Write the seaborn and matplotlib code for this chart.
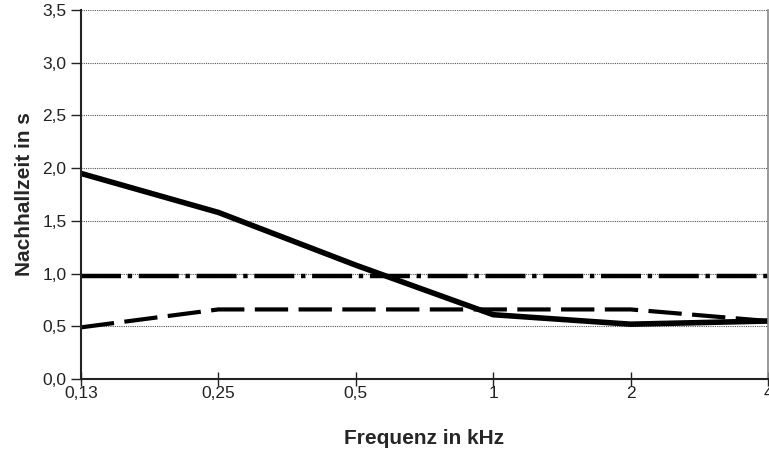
import numpy as np
import pandas as pd
import seaborn as sns
import matplotlib.pyplot as plt

freq_labels = ["0,13", "0,25", "0,5", "1", "2", "4"]
measured = [1.95, 1.58, 1.08, 0.61, 0.52, 0.55]
upper_limit = [0.98, 0.98, 0.98, 0.98, 0.98, 0.98]
lower_limit = [0.49, 0.66, 0.66, 0.66, 0.66, 0.55]
y_ticks = [0.0, 0.5, 1.0, 1.5, 2.0, 2.5, 3.0, 3.5]

sns.set_theme(style="white")
plt.rcParams["font.family"] = ["Liberation Sans", "DejaVu Sans"]

x = np.arange(len(freq_labels))
df = pd.DataFrame({
    "pos": np.tile(x, 3),
    "value": measured + upper_limit + lower_limit,
    "series": ["measured"] * 6 + ["upper"] * 6 + ["lower"] * 6,
})

fig = plt.figure(figsize=(7.69, 4.55), dpi=100)
ax = fig.add_axes([0.1053, 0.167, 0.8934, 0.811])

# dotted horizontal grid
for y in y_ticks[1:]:
    ax.axhline(y, color="#555555", linestyle=(0, (1, 1)), linewidth=0.8, zorder=0)

sns.lineplot(data=df[df.series == "measured"], x="pos", y="value", ax=ax,
             color="black", linewidth=4.0, legend=False)
sns.lineplot(data=df[df.series == "upper"], x="pos", y="value", ax=ax,
             color="black", linewidth=3.2, legend=False,
             linestyle=(0, (9, 1.5, 1, 1.5)))
sns.lineplot(data=df[df.series == "lower"], x="pos", y="value", ax=ax,
             color="black", linewidth=3.0, legend=False,
             linestyle=(0, (8, 2.5)))

ax.set_xlim(0, len(freq_labels) - 1)
ax.set_ylim(0, 3.5)
ax.set_xticks(x)
ax.set_xticklabels(freq_labels)
ax.set_yticks(y_ticks)
ax.set_yticklabels([f"{v:.1f}".replace(".", ",") for v in y_ticks])
ax.tick_params(axis="both", labelsize=12.5, colors="#222222", length=7, width=1,
               direction="out", bottom=True, left=True)
ax.tick_params(axis="x", direction="inout", length=10, pad=0)

ax.set_xlabel("Frequenz in kHz", fontsize=15, fontweight="bold", labelpad=20)
ax.set_ylabel("Nachhallzeit in s", fontsize=15, fontweight="bold", labelpad=6)

for side in ["left", "bottom"]:
    ax.spines[side].set_color("#222222")
    ax.spines[side].set_linewidth(1.5)
ax.spines["right"].set_color("#888888")
ax.spines["right"].set_linewidth(1.2)
ax.spines["top"].set_visible(False)

fig.savefig("out.png", dpi=100)
